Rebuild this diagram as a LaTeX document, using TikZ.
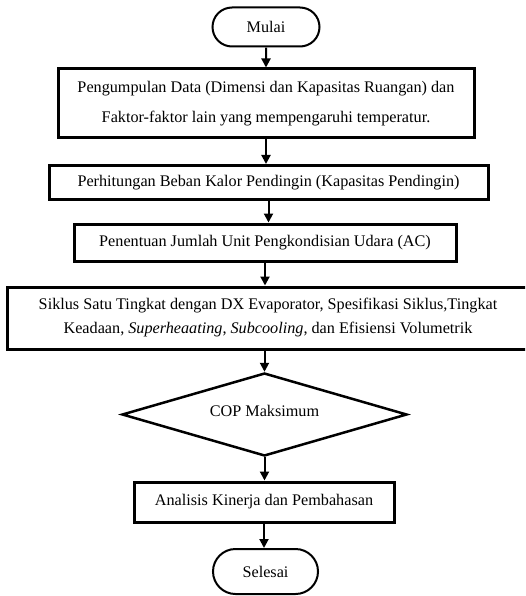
\documentclass[tikz,border=0pt]{standalone}
\usepackage{fontspec}
\setmainfont{Liberation Serif}
\usetikzlibrary{shapes.misc,shapes.geometric,arrows.meta}
\begin{document}
\begin{tikzpicture}[x=1pt,y=-1pt,
  every node/.style={font=\fontsize{16.2}{19}\selectfont, inner sep=0pt, align=center},
  term/.style={draw, rounded rectangle, line width=2pt},
  procbox/.style={draw, rectangle, line width=3pt},
  decis/.style={draw, diamond, line width=2.5pt},
  conn/.style={line width=2pt, -{Triangle[length=9pt,width=9pt]}}
]
\useasboundingbox (0,0) rectangle (525,596);
\begin{scope}
\clip (0,0) rectangle (525,596);
\node[term, minimum width=107pt, minimum height=39pt] (start) at (266,27) {Mulai};
\node[procbox, minimum width=416pt, minimum height=69pt, font=\fontsize{16.2}{30}\selectfont] (b1) at (266,103.5)
  {Pengumpulan Data (Dimensi dan Kapasitas Ruangan) dan\\Faktor-faktor lain yang mempengaruhi temperatur.};
\node[procbox, minimum width=439pt, minimum height=34pt] (b2) at (268.5,182.5) {Perhitungan Beban Kalor Pendingin (Kapasitas Pendingin)};
\node[procbox, minimum width=382pt, minimum height=37pt] (b3) at (265,242.5) {Penentuan Jumlah Unit Pengkondisian Udara (AC)};
\node[procbox, minimum width=522pt, minimum height=62pt, font=\fontsize{16.2}{24}\selectfont] (b4) at (268,318)
  {Siklus Satu Tingkat dengan DX Evaporator, Spesifikasi Siklus,Tingkat\\Keadaan, \textit{Superheaating}, \textit{Subcooling}, dan Efisiensi Volumetrik};
\node[decis, minimum width=285pt, minimum height=83pt, aspect=3.43, inner sep=0pt] (d) at (264.5,414.5) {};
\node (dtext) at (264.5,411) {COP Maksimum};
\node[procbox, minimum width=260pt, minimum height=40pt] (b5) at (264,502) {Analisis Kinerja dan Pembahasan};
\node[term, minimum width=105pt, minimum height=45pt] (end) at (265.5,571.5) {Selesai};
\end{scope}
\draw[conn] (start) -- (start|-b1.north);
\draw[conn] (b1) -- (b1|-b2.north);
\draw[conn] (b2) -- (b2|-b3.north);
\draw[conn] (b3) -- (b3|-b4.north);
\draw[conn] (b4.south-|d.north) -- (d.north);
\draw[conn] (d.south) -- (d|-b5.north);
\draw[conn] (b5) -- (b5|-end.north);
\end{tikzpicture}
\end{document}
